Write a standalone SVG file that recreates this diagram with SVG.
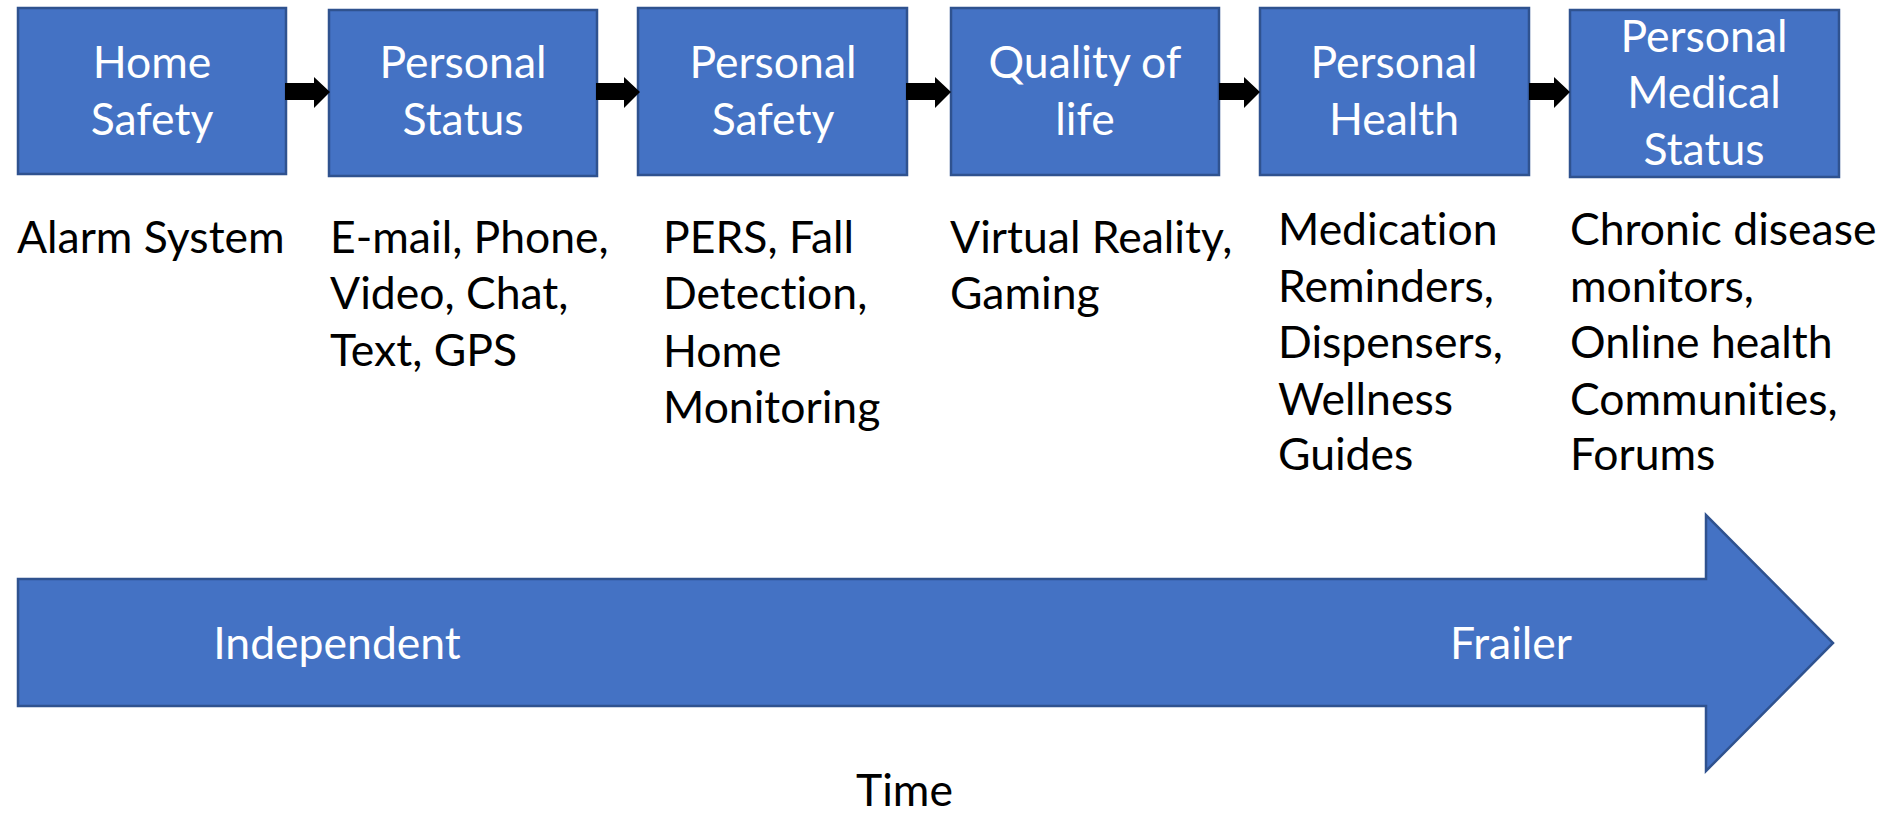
<svg xmlns="http://www.w3.org/2000/svg" width="1880" height="813" viewBox="0 0 1880 813">
<style>
.box{fill:#4472C4;stroke:#2F528F;stroke-width:2.5}
.bt{font-family:Lato,"Liberation Sans",sans-serif;font-size:44.5px;fill:#FFFFFF;text-anchor:middle;font-variant-ligatures:none}
.dt{font-family:Lato,"Liberation Sans",sans-serif;font-size:44.5px;fill:#000000;font-variant-ligatures:none}
.arr{fill:#000000}
</style>
<rect width="1880" height="813" fill="#FFFFFF"/>
<g id="timeline">
<path class="box" d="M18,579 H1706 V515 L1833,643 L1706,771 V706 H18 Z"/>
<text class="bt" x="337" y="659">Independent</text>
<text class="bt" x="1511" y="659">Frailer</text>
</g>
<g id="node-home-safety">
<rect class="box" x="18" y="8" width="268" height="166"/>
<text class="bt" x="152" y="78">Home</text>
<text class="bt" x="152" y="135">Safety</text>
<text class="dt" x="17" y="253">Alarm System</text>
</g>
<g id="node-personal-status">
<rect class="box" x="329" y="10" width="268" height="166"/>
<text class="bt" x="463" y="78">Personal</text>
<text class="bt" x="463" y="135">Status</text>
<text class="dt" x="330" y="253">E-mail, Phone,</text>
<text class="dt" x="330" y="309">Video, Chat,</text>
<text class="dt" x="330" y="366">Text, GPS</text>
</g>
<g id="node-personal-safety">
<rect class="box" x="638" y="8" width="269" height="167"/>
<text class="bt" x="773" y="78">Personal</text>
<text class="bt" x="773" y="135">Safety</text>
<text class="dt" x="663" y="253">PERS, Fall</text>
<text class="dt" x="663" y="309">Detection,</text>
<text class="dt" x="663" y="367">Home</text>
<text class="dt" x="663" y="423">Monitoring</text>
</g>
<g id="node-quality-of-life">
<rect class="box" x="951" y="8" width="268" height="167"/>
<text class="bt" x="1085" y="78">Quality of</text>
<text class="bt" x="1085" y="135">life</text>
<text class="dt" x="950" y="253">Virtual Reality,</text>
<text class="dt" x="950" y="309">Gaming</text>
</g>
<g id="node-personal-health">
<rect class="box" x="1260" y="8" width="269" height="167"/>
<text class="bt" x="1394" y="78">Personal</text>
<text class="bt" x="1394" y="135">Health</text>
<text class="dt" x="1278" y="245">Medication</text>
<text class="dt" x="1278" y="302">Reminders,</text>
<text class="dt" x="1278" y="358">Dispensers,</text>
<text class="dt" x="1278" y="415">Wellness</text>
<text class="dt" x="1278" y="470">Guides</text>
</g>
<g id="node-personal-medical-status">
<rect class="box" x="1570" y="10" width="269" height="167"/>
<text class="bt" x="1704" y="52">Personal</text>
<text class="bt" x="1704" y="108">Medical</text>
<text class="bt" x="1704" y="165">Status</text>
<text class="dt" x="1570" y="245">Chronic disease</text>
<text class="dt" x="1570" y="302">monitors,</text>
<text class="dt" x="1570" y="358">Online health</text>
<text class="dt" x="1570" y="415">Communities,</text>
<text class="dt" x="1570" y="470">Forums</text>
</g>
<text class="dt" x="856" y="806">Time</text>
<g id="connectors">
<path class="arr" d="M285,83 H314 V77 L330,92 L314,108 V100 H285 Z"/>
<path class="arr" d="M596,83 H624 V77 L640,92 L624,108 V100 H596 Z"/>
<path class="arr" d="M906,83 H935 V77 L951,92 L935,108 V100 H906 Z"/>
<path class="arr" d="M1219,83 H1244 V77 L1260,92 L1244,108 V100 H1219 Z"/>
<path class="arr" d="M1529,83 H1554 V77 L1570,92 L1554,108 V100 H1529 Z"/>
</g>
</svg>
